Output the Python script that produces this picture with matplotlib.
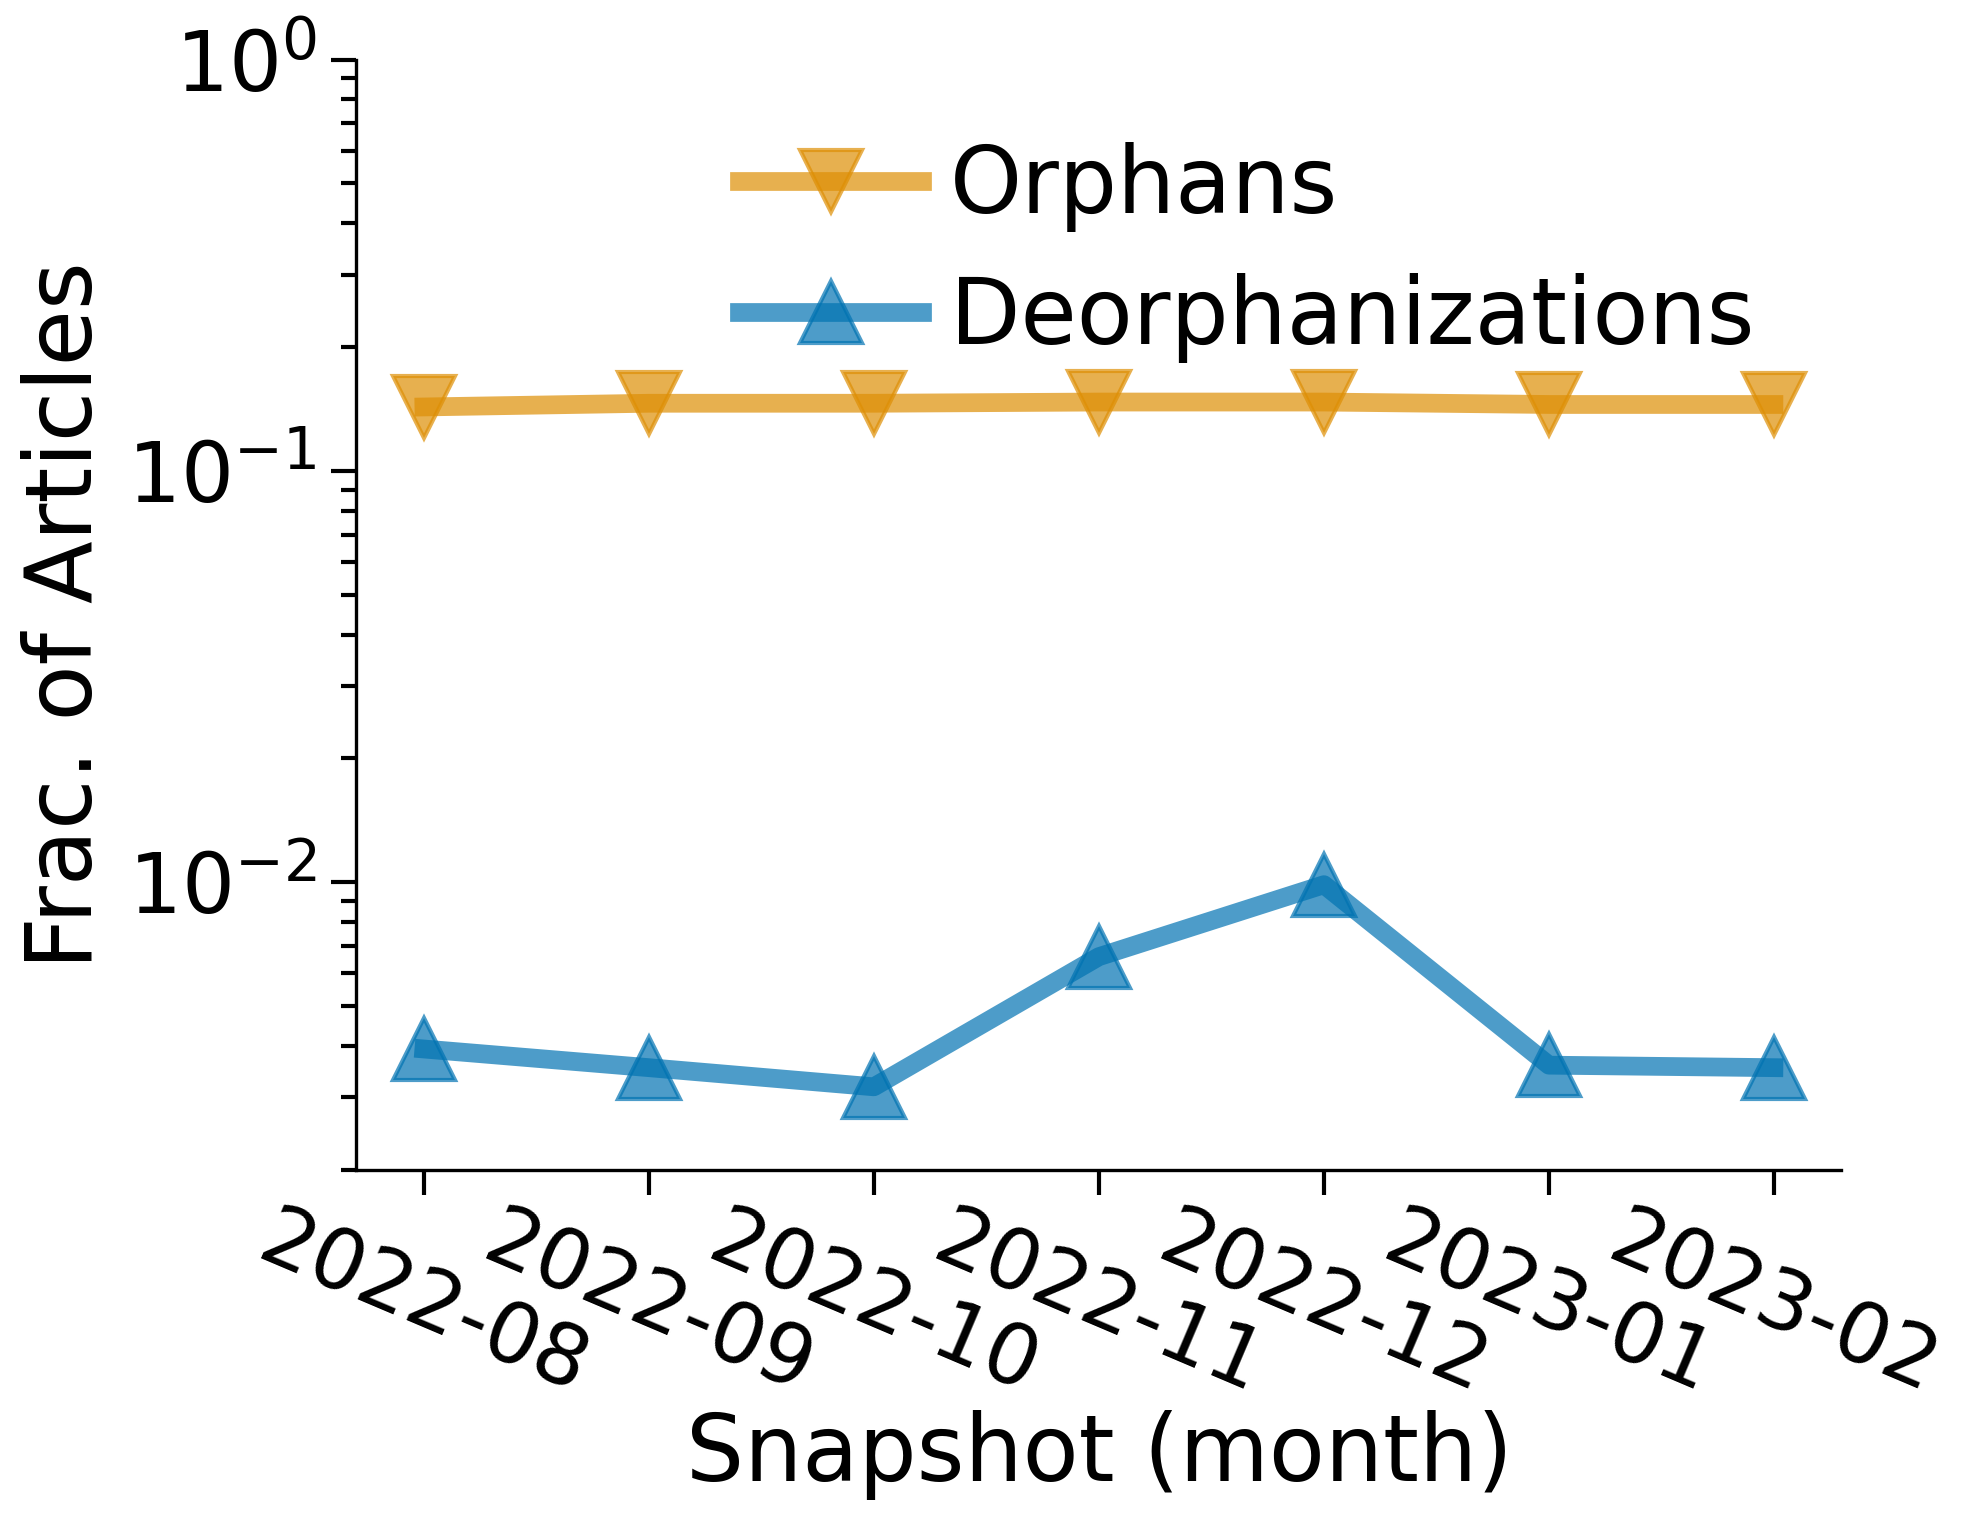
import matplotlib
matplotlib.use("Agg")
import matplotlib.pyplot as plt
import seaborn as sns

# snapshot months and fractions
months = ["2022-08", "2022-09", "2022-10", "2022-11", "2022-12", "2023-01", "2023-02"]
orphans = [0.143, 0.146, 0.146, 0.147, 0.147, 0.145, 0.145]
deorphanizations = [0.00393, 0.00354, 0.00318, 0.00659, 0.00986, 0.00359, 0.00354]

colors = sns.color_palette("colorblind")
orange = colors[1]
blue = colors[0]

fig = plt.figure(figsize=(6.6, 5.097), dpi=300)
ax = fig.add_subplot(111)
fig.subplots_adjust(left=0.180, right=0.930, top=0.961, bottom=0.235)

x = list(range(len(months)))
ax.plot(x, orphans, color=orange, marker="v", markersize=15, linewidth=4.5,
        alpha=0.7, label="Orphans")
ax.plot(x, deorphanizations, color=blue, marker="^", markersize=15, linewidth=4.5,
        alpha=0.7, label="Deorphanizations")

ax.set_yscale("log")
ax.set_ylim(0.002, 1)
ax.set_xlim(-0.3, len(months) - 0.7)
ax.set_xticks(x)
ax.set_xticklabels(months, rotation=-23, ha="center", fontsize=20)
ax.tick_params(axis="y", labelsize=20)
ax.tick_params(axis="both", which="major", length=6, width=1)
ax.tick_params(axis="x", pad=1)
ax.tick_params(axis="y", which="minor", length=3.5, width=1)

ax.spines["top"].set_visible(False)
ax.spines["right"].set_visible(False)

ax.set_xlabel("Snapshot (month)", fontsize=22, labelpad=0)
ax.set_ylabel("Frac. of Articles", fontsize=22)

ax.legend(loc="upper right", bbox_to_anchor=(0.997, 1.0), frameon=False, fontsize=22,
          handlelength=2.0, handletextpad=0.3, labelspacing=0.45)

fig.savefig("out.png", dpi=300)
